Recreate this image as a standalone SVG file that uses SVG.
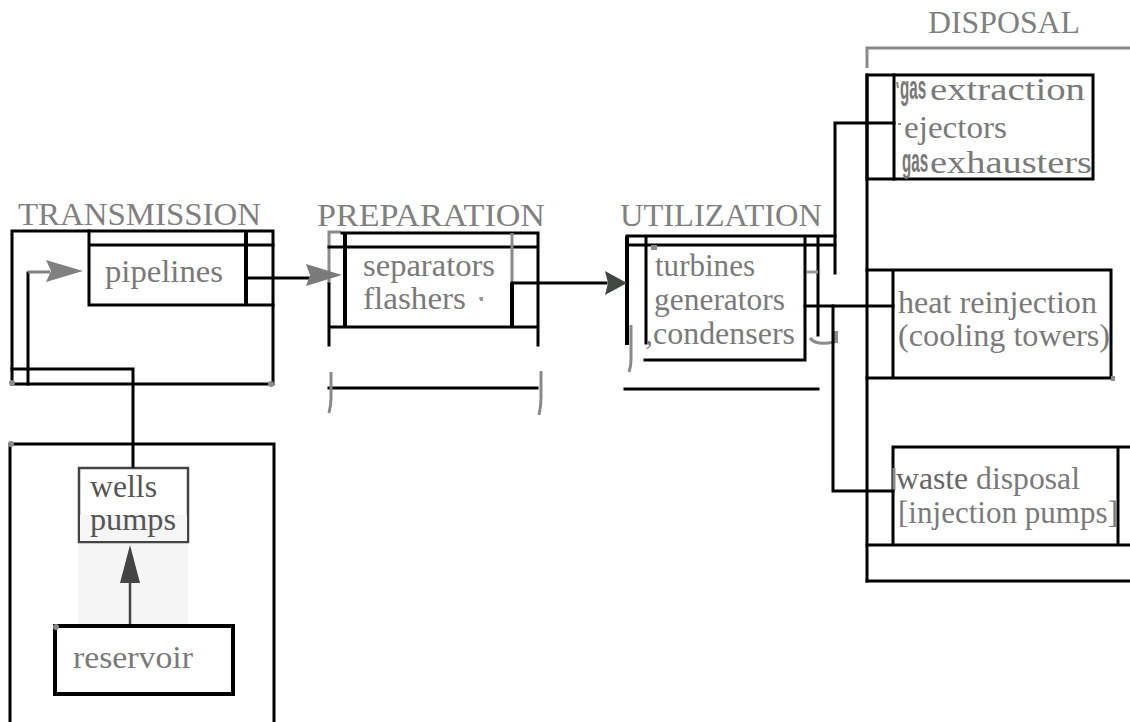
<svg xmlns="http://www.w3.org/2000/svg" width="1130" height="722" viewBox="0 0 1130 722">
  <style>
    .ln { stroke: #000; stroke-width: 3; fill: none; stroke-linecap: square; }
    .thk { stroke: #000; stroke-width: 4; fill: none; }
    .gr { stroke: #8a8a8a; stroke-width: 3; fill: none; }
    .hd { font-family: "Liberation Serif", "Times New Roman", Times, serif; font-size: 31px; fill: #808080; }
    .tx { font-family: "Liberation Serif", "Times New Roman", Times, serif; font-size: 32px; fill: #7a7a7a; }
    .dk { font-family: "Liberation Serif", "Times New Roman", Times, serif; font-size: 32px; fill: #555; }
    .bs { font-family: "Liberation Sans", Arial, sans-serif; font-weight: bold; font-size: 33px; fill: #777; }
    .dot { fill: #8a8a8a; }
  </style>

  <!-- transmission stage -->
  <g id="transmission">
    <text class="hd" x="18" y="225" textLength="243" lengthAdjust="spacingAndGlyphs">TRANSMISSION</text>
    <rect class="ln" x="12" y="231" width="261" height="153"/>
    <path class="ln" d="M89 231 V305 M89 245 H273 M89 305 H273"/>
    <path class="thk" d="M246 231 V305"/>
    <text class="tx" x="105" y="282" textLength="118" lengthAdjust="spacingAndGlyphs">pipelines</text>
    <circle class="dot" cx="12" cy="383" r="3"/>
    <circle class="dot" cx="271" cy="384" r="3"/>
  </g>

  <!-- preparation stage -->
  <g id="preparation">
    <text class="hd" x="317" y="226" textLength="228" lengthAdjust="spacingAndGlyphs">PREPARATION</text>
    <path class="gr" d="M329 284 V232 H341"/>
    <path class="ln" d="M329 284 V345 M342 233 H538 M329 247 H538 M329 327 H538 M538 233 V345"/>
    <path class="thk" d="M345 233 V327"/>
    <path class="gr" d="M512 233 V283"/>
    <path class="thk" d="M512 283 V327"/>
    <text class="tx" x="363" y="276" textLength="132" lengthAdjust="spacingAndGlyphs">separators</text>
    <text class="tx" x="363" y="309" textLength="103" lengthAdjust="spacingAndGlyphs">flashers</text>
    <path d="M479 297 h4 v4 h-3 z" fill="#999"/>
    <!-- lower bracket -->
    <path class="ln" d="M329 388 H537"/>
    <path class="gr" d="M331 372 V398 Q331 405 329 413"/>
    <path class="gr" d="M541 371 V398 Q541 406 539 415"/>
  </g>

  <!-- utilization stage -->
  <g id="utilization">
    <text class="hd" x="620" y="226" textLength="202" lengthAdjust="spacingAndGlyphs">UTILIZATION</text>
    <path class="thk" d="M627 236 V345"/>
    <path class="ln" d="M627 236 H835 M627 245 H835 M646 236 V343 M645 360 H805 M805 236 V360 M818 236 V335 M625 389 H818"/>
    <rect x="651" y="245" width="6" height="5" fill="#8a8a8a"/>
    <path d="M807 272 H818" stroke="#999" stroke-width="3"/>
    <path class="gr" d="M631 325 V360 Q631 366 629 372"/>
    <path class="gr" d="M810 338 Q816 346 834 342 V331" stroke-width="2"/>
    <rect x="833" y="331" width="5" height="12" fill="#8a8a8a"/>
    <text class="tx" x="655" y="276" textLength="100" lengthAdjust="spacingAndGlyphs">turbines</text>
    <text class="tx" x="654" y="310" textLength="131" lengthAdjust="spacingAndGlyphs">generators</text>
    <text class="tx" x="645" y="344" textLength="150" lengthAdjust="spacingAndGlyphs">,condensers</text>
  </g>

  <!-- disposal stage -->
  <g id="disposal">
    <text class="hd" x="928" y="33" textLength="152" lengthAdjust="spacingAndGlyphs">DISPOSAL</text>
    <path class="gr" d="M867 68 V48 H1130"/>
    <path class="ln" d="M867 75 V581"/>
  </g>

  <g id="gas-extraction">
    <rect class="ln" x="867" y="75" width="226" height="104"/>
    <path class="ln" d="M894 75 V179"/>
    <path d="M897 82 l1 6" stroke="#8a8a8a" stroke-width="2"/>
    <path d="M898 124 h3" stroke="#8a8a8a" stroke-width="2"/>
    <text class="bs" transform="translate(900 99) scale(0.46 1)">gas</text>
    <text class="tx" x="930" y="100" textLength="155" lengthAdjust="spacingAndGlyphs">extraction</text>
    <text class="tx" x="904" y="138" textLength="103" lengthAdjust="spacingAndGlyphs">ejectors</text>
    <text class="bs" transform="translate(902 172) scale(0.46 1)">gas</text>
    <text class="tx" x="930" y="173" textLength="162" lengthAdjust="spacingAndGlyphs">exhausters</text>
  </g>

  <g id="heat-reinjection">
    <path class="ln" d="M867 270 H1111 V378 H867 M893 270 V378"/>
    <rect x="1111" y="376" width="4" height="5" fill="#8a8a8a"/>
    <text class="tx" x="898" y="313" textLength="199" lengthAdjust="spacingAndGlyphs">heat reinjection</text>
    <text class="tx" x="898" y="346" textLength="212" lengthAdjust="spacingAndGlyphs">(cooling towers)</text>
  </g>

  <g id="waste-disposal">
    <path class="ln" d="M893 447 H1130 M893 447 V545 M1118 447 V545 M867 545 H1130 M867 581 H1130"/>
    <path d="M894 468 V490" stroke="#8a8a8a" stroke-width="3"/>
    <text class="tx" x="896" y="489" textLength="184" lengthAdjust="spacingAndGlyphs"><tspan fill="#666">waste</tspan> disposal</text>
    <text class="tx" x="898" y="523" textLength="220" lengthAdjust="spacingAndGlyphs">[injection pumps]</text>
  </g>

  <!-- production stage -->
  <g id="production">
    <path class="ln" d="M10 722 V444 H274 V722"/>
    <circle class="dot" cx="11" cy="444" r="3"/>
  </g>

  <g id="wells">
    <rect x="78" y="515" width="110" height="109" fill="#f5f5f5"/>
    <rect x="79" y="468" width="109" height="74" fill="#fff" stroke="#444" stroke-width="2.5"/>
    <rect x="80" y="515" width="107" height="26" fill="#f6f6f6"/>
    <text class="dk" x="90" y="497" fill="#666" textLength="67" lengthAdjust="spacingAndGlyphs">wells</text>
    <text class="dk" x="90" y="530" textLength="86" lengthAdjust="spacingAndGlyphs">pumps</text>
  </g>

  <g id="reservoir">
    <rect x="55" y="626" width="178" height="68" fill="#fff" stroke="#000" stroke-width="4"/>
    <circle class="dot" cx="56" cy="627" r="3"/>
    <text class="tx" x="73" y="668" textLength="120" lengthAdjust="spacingAndGlyphs">reservoir</text>
  </g>

  <!-- flow connectors -->
  <g id="connectors">
    <!-- reservoir to wells -->
    <path d="M130 624 V580" stroke="#444" stroke-width="2.5"/>
    <polygon points="120,583 130,545 140,583" fill="#444"/>
    <!-- wells up into pipelines -->
    <path class="ln" d="M133 466 V369 H12"/>
    <path class="ln" d="M28 384 V273"/>
    <path d="M28 272 H50" stroke="#808080" stroke-width="3"/>
    <polygon points="46,260 83,271 46,282 51,271" fill="#808080"/>
    <!-- pipelines to preparation -->
    <path class="ln" d="M246 278 H308"/>
    <polygon points="306,264 342,275 306,286 310,275" fill="#7a7a7a"/>
    <!-- preparation to utilization -->
    <path class="ln" d="M512 283 H606"/>
    <polygon points="605,271 627,283 605,295 608,283" fill="#3f4843"/>
    <!-- utilization to disposal units -->
    <path class="ln" d="M835 273 V123 H894"/>
    <path class="ln" d="M805 306 H893"/>
    <path class="ln" d="M833 306 V491 H893"/>
  </g>
</svg>
